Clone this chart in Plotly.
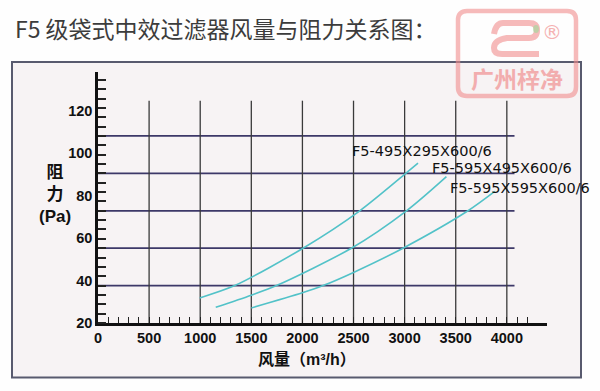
import plotly.graph_objects as go

# ---------------- data ----------------
series_names = ["F5-495X295X600/6", "F5-595X495X600/6", "F5-595X595X600/6"]
flow_1 = [995, 1338, 2006, 2561, 3011, 3131]
res_1 = [31.8, 37.6, 55.2, 72.8, 90.4, 95.2]
flow_2 = [1152, 1500, 1746, 2479, 3018, 3409]
res_2 = [27.4, 33.1, 37.6, 55.2, 72.8, 88.9]
flow_3 = [1501, 2000, 2202, 2500, 2984, 3620, 3882]
res_3 = [27.1, 34.2, 37.6, 43.8, 55.2, 72.8, 81.9]

x_tick_vals = [0, 500, 1000, 1500, 2000, 2500, 3000, 3500, 4000]
x_tick_text = ["0", "500", "1000", "1500", "2000", "2500", "3000", "3500", "4000"]
y_tick_vals = [20, 40, 60, 80, 100, 120]
y_tick_text = ["20", "40", "60", "80", "100", "120"]
x_minor = list(range(100, 4300, 100))
y_minor_step = 4.4
grid_y = [37.6, 55.2, 72.8, 90.4, 108.0]
grid_x = [500, 1000, 1500, 2000, 2500, 3000, 3500, 4000]

title_text = "F5 级袋式中效过滤器风量与阻力关系图："
x_title = "<b>风量（m³/h）</b>"
y_title = "<b>阻<br>力<br>(Pa)</b>"
logo_text = "<b>广州梓净</b>"

# ---------------- layout geometry ----------------
W, H = 600, 391
L, R, T, B = 98, 53, 72, 67.5
X_RANGE = [0, 4393]
Y_RANGE = [20, 138.1]
PW, PH = W - L - R, H - T - B


def px(x):
    return (x - L) / PW


def py(y):
    return (H - B - y) / PH


CURVE = "#52c2c8"
HGRID = "#3d3868"
VGRID = "#3a3a3a"
LOGO = "rgba(240,140,140,0.6)"

fig = go.Figure()

# grid lines (drawn behind curves)
for gy in grid_y:
    fig.add_trace(go.Scatter(x=[0, 4075], y=[gy, gy], mode="lines",
                             line=dict(color=HGRID, width=1.8),
                             hoverinfo="skip", showlegend=False))
for gx in grid_x:
    fig.add_trace(go.Scatter(x=[gx, gx], y=[Y_RANGE[0], 124.6], mode="lines",
                             line=dict(color=VGRID, width=1.3),
                             hoverinfo="skip", showlegend=False))

for name, fx, ry in zip(series_names, [flow_1, flow_2, flow_3], [res_1, res_2, res_3]):
    fig.add_trace(go.Scatter(x=fx, y=ry, mode="lines", name=name,
                             line=dict(color=CURVE, width=1.6, shape="spline", smoothing=0.8),
                             showlegend=False))

label_pos = [(2463, 100.7), (3245, 92.9), (3421, 83.5)]
for name, (lx, ly) in zip(series_names, label_pos):
    fig.add_annotation(x=lx, y=ly, text=name, showarrow=False, xanchor="left",
                       yanchor="middle", font=dict(family="DejaVu Sans", size=14.5, color="#111"))

shapes = []
# outer framed box
shapes.append(dict(type="rect", xref="paper", yref="paper",
                   x0=px(12), x1=px(581), y0=py(378), y1=py(62),
                   line=dict(color="#585a6e", width=2), fillcolor="#f7f3f4", layer="below"))
# logo frame
shapes.append(dict(type="path", xref="paper", yref="paper",
                   path=("M {a},{b} L {c},{b} Q {d},{b} {d},{e} L {d},{f} Q {d},{g} {c},{g} "
                         "L {a},{g} Q {h},{g} {h},{f} L {h},{e} Q {h},{b} {a},{b} Z").format(
                       a=px(467), c=px(567), d=px(576), h=px(458),
                       b=py(11), e=py(20), f=py(87), g=py(96)),
                   line=dict(color=LOGO, width=4.5)))
# stylised "2" mark
shapes.append(dict(type="path", xref="paper", yref="paper",
                   path=("M {x1},{y1} Q {x2},{y2} {x3},{y2} L {x4},{y2} Q {x5},{y2} {x5},{y3} "
                         "Q {x5},{y4} {x4},{y4} L {x6},{y4} Q {x1},{y5} {x1},{y6} Q {x1},{y7} {x7},{y7} "
                         "L {x8},{y7}").format(
                       x1=px(494), y1=py(34), x2=px(496), y2=py(23), x3=px(503), x4=px(529),
                       x5=px(537), y3=py(30), y4=py(38), x6=px(507), y5=py(40), y6=py(48),
                       y7=py(54), x7=px(502), x8=px(539)),
                   line=dict(color=LOGO, width=6)))
shapes.append(dict(type="circle", xref="paper", yref="paper",
                   x0=px(533), x1=px(539), y0=py(33), y1=py(25),
                   fillcolor="rgba(170,215,160,0.7)", line=dict(width=0)))

fig.update_layout(shapes=shapes)

fig.add_annotation(xref="paper", yref="paper", x=px(13), y=py(28), text=title_text,
                   showarrow=False, xanchor="left", yanchor="middle",
                   font=dict(family="Noto Sans CJK SC", size=23, color="#3c3c3c"))
fig.add_annotation(xref="paper", yref="paper", x=px(307), y=py(360), text=x_title,
                   showarrow=False, xanchor="center", yanchor="middle",
                   font=dict(family="Liberation Sans, Noto Sans CJK SC", size=16, color="#111"))
fig.add_annotation(xref="paper", yref="paper", x=px(55), y=py(195), text=y_title,
                   showarrow=False, xanchor="center", yanchor="middle",
                   font=dict(family="Liberation Sans, Noto Sans CJK SC", size=17, color="#111"))
fig.add_annotation(xref="paper", yref="paper", x=px(517), y=py(78), text=logo_text,
                   showarrow=False, xanchor="center", yanchor="middle", opacity=0.6,
                   font=dict(family="Noto Sans CJK SC", size=23, color="#f08080"))
fig.add_annotation(xref="paper", yref="paper", x=px(552), y=py(32), text="®",
                   showarrow=False, xanchor="center", yanchor="middle", opacity=0.6,
                   font=dict(family="DejaVu Sans", size=20, color="#f08080"))

tick_font = dict(family="Liberation Sans", size=14.5, color="#111", weight="bold")
fig.update_xaxes(range=X_RANGE, showgrid=False, zeroline=False,
                 showline=True, linecolor="#111", linewidth=3,
                 tickmode="array", tickvals=x_tick_vals, ticktext=x_tick_text,
                 ticks="", tickfont=tick_font,
                 minor=dict(tickmode="array", tickvals=x_minor, ticks="inside",
                            ticklen=6, tickwidth=1.3, tickcolor="#222", showgrid=False))
fig.update_yaxes(range=Y_RANGE, showgrid=False, zeroline=False,
                 showline=True, linecolor="#111", linewidth=2.5,
                 tickmode="array", tickvals=y_tick_vals, ticktext=y_tick_text,
                 ticks="", tickfont=tick_font,
                 minor=dict(tick0=20, dtick=y_minor_step, ticks="inside",
                            ticklen=8, tickwidth=1.5, tickcolor="#222", showgrid=False))

fig.update_layout(width=W, height=H, margin=dict(l=L, r=R, t=T, b=B, pad=0),
                  paper_bgcolor="#fefefe", plot_bgcolor="rgba(0,0,0,0)",
                  showlegend=False)

fig.write_html("out.html")
